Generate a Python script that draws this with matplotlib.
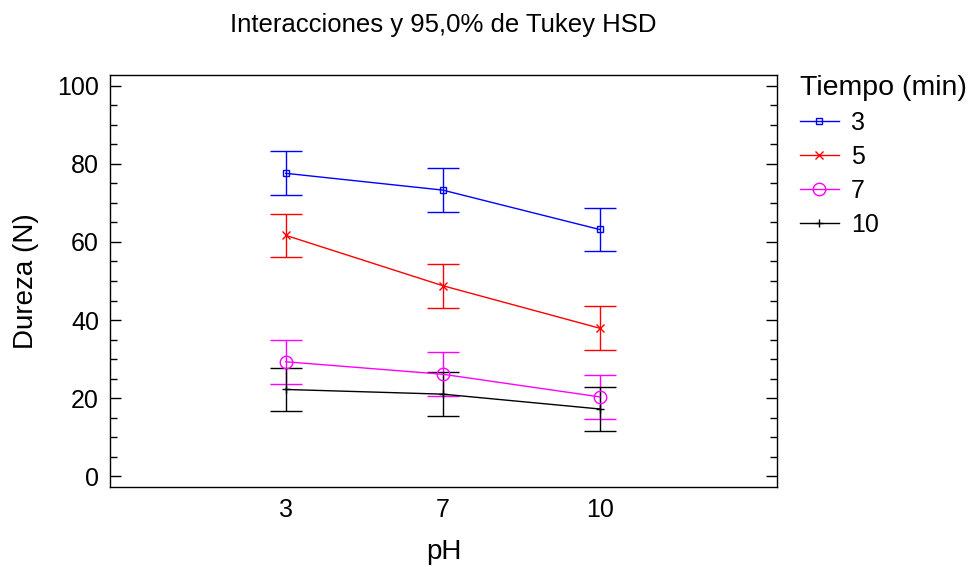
import matplotlib
matplotlib.use("Agg")
import matplotlib.pyplot as plt
from matplotlib.ticker import MultipleLocator
import numpy as np

plt.rcParams['font.family'] = ['Liberation Sans', 'DejaVu Sans']

ph_labels = ["3", "7", "10"]
tiempo_labels = ["3", "5", "7", "10"]
media_t3 = [77.6, 73.3, 63.2]
media_t5 = [61.7, 48.8, 37.9]
media_t7 = [29.3, 26.1, 20.3]
media_t10 = [22.2, 21.0, 17.2]
hsd_half = 5.6

series = [media_t3, media_t5, media_t7, media_t10]
colors = ["#0000ff", "#ff0000", "#ff00ff", "#000000"]
markers = ["s", "x", "o", "+"]
msizes = [5, 6, 9, 6]

fig = plt.figure(figsize=(9.77, 5.67), dpi=100)
ax = fig.add_axes([110/977, 1-487/567, (777-110)/977, (487-75)/567])

x = np.arange(len(ph_labels))
handles = []
for vals, c, m, ms, lab in zip(series, colors, markers, msizes, tiempo_labels):
    ax.errorbar(x, vals, yerr=hsd_half, fmt='none', ecolor=c, elinewidth=1.0,
                capsize=11.5, capthick=1.0, zorder=2)
    h, = ax.plot(x, vals, color=c, lw=1.0, marker=m, ms=ms, mfc='none',
                 mec=c, mew=1.0, label=lab, zorder=3)
    handles.append(h)

ax.set_xlim(-1.12, 3.13)
ax.set_ylim(-2.8, 102.8)
ax.set_xticks(x)
ax.set_xticklabels(ph_labels)
ax.yaxis.set_major_locator(MultipleLocator(20))
ax.yaxis.set_minor_locator(MultipleLocator(5))
ax.tick_params(axis='x', length=0, labelsize=18, pad=8)
ax.tick_params(axis='y', which='major', direction='in', length=8, width=1,
               left=True, right=True, labelsize=18, pad=8)
ax.tick_params(axis='y', which='minor', direction='in', length=5, width=1,
               left=True, right=True)
for s in ax.spines.values():
    s.set_linewidth(1.0)

ax.set_xlabel("pH", fontsize=20, labelpad=12)
ax.set_ylabel("Dureza (N)", fontsize=20, labelpad=13)
fig.text(443/977, 1-25/567, "Interacciones y 95,0% de Tukey HSD",
         ha='center', va='center', fontsize=18.5)

leg = fig.legend(handles=handles, title="Tiempo (min)", loc='upper left',
                 bbox_to_anchor=(800/977, 1-75/567), frameon=False,
                 fontsize=18, title_fontsize=20.5, handlelength=1.55,
                 handletextpad=0.5, labelspacing=0.40, borderaxespad=0,
                 borderpad=0)
leg._legend_box.align = "left"

fig.savefig("out.png", dpi=100)
